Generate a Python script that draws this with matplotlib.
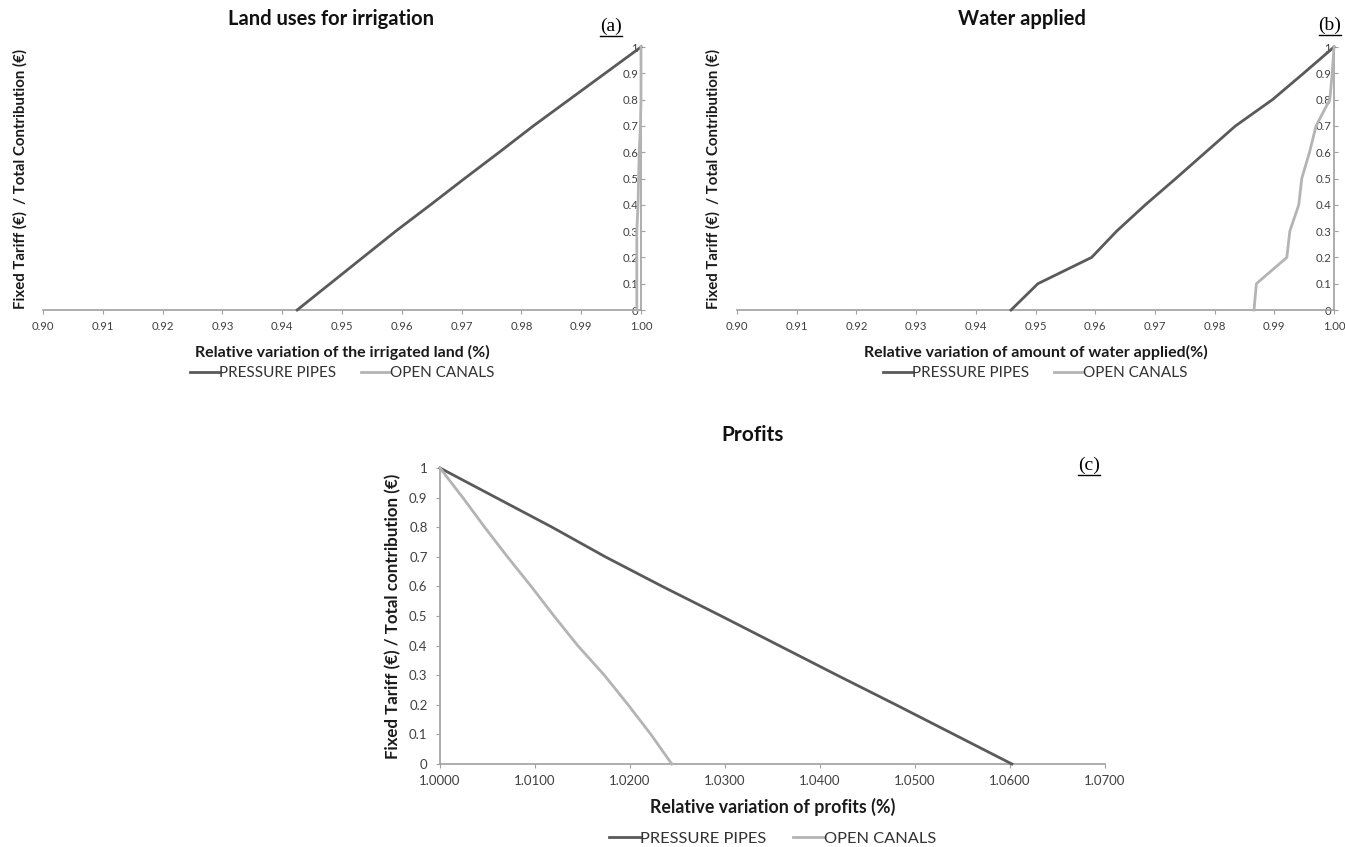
import numpy as np
import matplotlib
matplotlib.use("Agg")
import matplotlib.pyplot as plt
from matplotlib.lines import Line2D
from matplotlib.ticker import FixedLocator, FuncFormatter

plt.rcParams['font.family'] = ['Lato', 'DejaVu Sans']

# shared y values (fixed tariff / total contribution)
share = [0.0, 0.1, 0.2, 0.3, 0.4, 0.5, 0.6, 0.7, 0.8, 0.9, 1.0]

# (a) land uses for irrigation
land_pipes = [0.9425, 0.9480, 0.9535, 0.9590, 0.9648, 0.9705, 0.9763, 0.9820, 0.9880, 0.9940, 1.0]
land_canals = [0.9993, 0.9993, 0.9993, 0.9993, 0.9995, 0.9996, 0.9997, 0.9999, 1.0, 1.0, 1.0]

# (b) water applied
water_pipes = [0.9459, 0.9504, 0.9594, 0.9636, 0.9684, 0.9735, 0.9785, 0.9835, 0.9897, 0.9949, 1.0]
water_canals = [0.9866, 0.9870, 0.9921, 0.9926, 0.9941, 0.9946, 0.9959, 0.9970, 0.9993, 0.9997, 1.0]

# (c) profits
profit_pipes = [1.0602, 1.0541, 1.0480, 1.0418, 1.0357, 1.0296, 1.0234, 1.0174, 1.0118, 1.0059, 1.0]
profit_canals = [1.0244, 1.0222, 1.0198, 1.0173, 1.0145, 1.0120, 1.0096, 1.0071, 1.0047, 1.0024, 1.0]

series_names = ['PRESSURE PIPES', 'OPEN CANALS']
dark = '#5a5a5a'
light = '#b4b4b4'
axis_col = '#a0a0a0'

W, H = 1345, 847
fig = plt.figure(figsize=(W / 100, H / 100), dpi=100)


def px_axes(x0, x1, y_top, y_bot):
    return fig.add_axes([x0 / W, 1 - y_bot / H, (x1 - x0) / W, (y_bot - y_top) / H])


def style(ax, xticks, xfmt, right_axis, xsize, ysize):
    for s in ['top', 'right']:
        ax.spines[s].set_visible(False)
    ax.spines['bottom'].set_color(axis_col)
    ax.spines['left'].set_color(axis_col)
    ax.spines['bottom'].set_linewidth(1.2)
    ax.spines['left'].set_linewidth(1.2)
    ax.set_ylim(0, 1)
    ax.set_xlim(xticks[0], xticks[-1])
    ax.xaxis.set_major_locator(FixedLocator(xticks))
    ax.xaxis.set_major_formatter(FuncFormatter(lambda v, p: xfmt % v))
    ax.yaxis.set_major_locator(FixedLocator(share))
    ax.yaxis.set_major_formatter(FuncFormatter(lambda v, p: f"{v:g}"))
    ax.tick_params(axis='x', colors=axis_col, labelcolor='#404040', labelsize=xsize,
                   length=3, direction='out', pad=5)
    if right_axis:
        ax.spines['left'].set_position(('data', xticks[-1]))
        ax.tick_params(axis='y', colors=axis_col, labelcolor='#404040', labelsize=ysize,
                       length=3, direction='in', pad=2)
    else:
        ax.tick_params(axis='y', colors=axis_col, labelcolor='#404040', labelsize=ysize,
                       length=3, direction='out', pad=6)


def draw(ax, xp, xc, title_xy, title, tsize, xlabel, xlsize, ylabel, ylsize,
         ylab_x, xlab_y, leg_y, legsize):
    ax.plot(xp, share, color=dark, lw=2.0, clip_on=False, label=series_names[0], zorder=3)
    ax.plot(xc, share, color=light, lw=2.0, clip_on=False, label=series_names[1], zorder=3)
    ax.set_xlabel(xlabel, fontsize=xlsize, fontweight='bold', color='#1a1a1a')
    ax.xaxis.label.set_va('center')
    ax.xaxis.set_label_coords(0.5, xlab_y)
    ax.set_ylabel(ylabel, fontsize=ylsize, fontweight='bold', color='#1a1a1a')
    ax.yaxis.label.set_va('center')
    ax.yaxis.set_label_coords(ylab_x, 0.5)
    ax.legend(loc='center', bbox_to_anchor=(0.5, leg_y), ncol=2, frameon=False,
              fontsize=legsize, handlelength=1.9, handletextpad=0.0, columnspacing=1.6,
              labelcolor='#333333')
    fig.text(title_xy[0] / W, 1 - title_xy[1] / H, title, ha='center', va='center',
             fontsize=tsize, fontweight='bold', color='#111111')


ticks_ab = list(np.round(np.arange(0.90, 1.0001, 0.01), 2))
ticks_c = list(np.round(np.arange(1.0, 1.07001, 0.01), 2))

ax_a = px_axes(43, 641, 47, 310)
style(ax_a, ticks_ab, '%.2f', True, 8.2, 8.2)
draw(ax_a, land_pipes, land_canals, (331, 19), 'Land uses for irrigation', 14.5,
     'Relative variation of the irrigated land (%)', 11.5,
     'Fixed Tariff (€)  / Total Contribution (€)', 10.8, -0.038, -0.16, -0.24, 11)

ax_b = px_axes(737, 1334, 47, 310)
style(ax_b, ticks_ab, '%.2f', True, 8.2, 8.2)
draw(ax_b, water_pipes, water_canals, (1022, 19), 'Water applied', 14.5,
     'Relative variation of amount of water applied(%)', 11.5,
     'Fixed Tariff (€)  / Total Contribution (€)', 10.8, -0.040, -0.16, -0.24, 11)

ax_c = px_axes(440, 1105, 468, 764)
style(ax_c, ticks_c, '%.4f', False, 9.5, 9.5)
draw(ax_c, profit_pipes, profit_canals, (753, 435), 'Profits', 15,
     'Relative variation of profits (%)', 12.8,
     'Fixed Tariff (€) / Total contribution (€)', 12.2, -0.071, -0.145, -0.253, 11.8)

# underlined panel letters
panel_texts = []
for lab, x, y in [('(a)', 611, 26), ('(b)', 1330, 25), ('(c)', 1089, 465)]:
    panel_texts.append(fig.text(x / W, 1 - y / H, lab, ha='center', va='center',
                                fontsize=14, family='Liberation Serif', color='black'))
fig.canvas.draw()
renderer = fig.canvas.get_renderer()
for t in panel_texts:
    bb = t.get_window_extent(renderer).transformed(fig.transFigure.inverted())
    yy = bb.y0 - 1.5 / H
    fig.add_artist(Line2D([bb.x0, bb.x1], [yy, yy], color='black', lw=1.0,
                          transform=fig.transFigure))

fig.savefig('out.png', dpi=100)
